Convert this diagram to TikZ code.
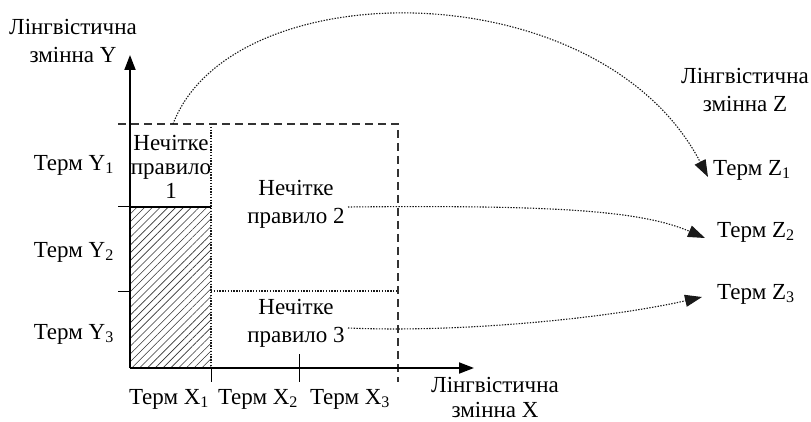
\documentclass[tikz,border=0pt]{standalone}
\usepackage{fontspec}
\setmainfont{Liberation Serif}
\usetikzlibrary{arrows.meta,patterns.meta}
\begin{document}
\begin{tikzpicture}[x=1pt,y=-1pt,
  txt/.style={font=\fontsize{23}{28}\selectfont, inner sep=0pt, align=center},
  axis/.style={line width=1.8pt, -{Triangle[length=15pt,width=11pt]}},
  dashedline/.style={line width=1.3pt, dash pattern=on 8pt off 5pt, draw=black!80},
  dotline/.style={line width=1.1pt, dash pattern=on 1.4pt off 1.4pt, draw=black!90},
  dotarrow/.style={dotline, -{Triangle[length=17pt,width=12pt]}},
  tick/.style={line width=1pt}]
\useasboundingbox (0,0) rectangle (811,422);
% coordinates
\coordinate (O) at (130,368);
\coordinate (ytop) at (130,55);
\coordinate (xend) at (474,368);
% hatched region
\fill[pattern={Lines[angle=45,distance=5.5pt,line width=0.6pt]}, pattern color=black!80] (130,207) rectangle (211,368);
\draw[line width=1.2pt] (130,207) -- (211,207);
% dotted grid
\draw[dotline] (211,124) -- (211,368);
\draw[dotline] (211,291) -- (398,291);
% dashed box
\draw[dashedline] (118,124) -- (398,124) -- (398,382);
% ticks
\draw[tick] (118,207) -- (130,207);
\draw[tick] (118,291) -- (130,291);
\draw[tick] (211,368) -- (211,382);
\draw[tick] (299,354) -- (299,382);
% axes
\draw[axis] (O) -- (ytop);
\draw[axis] (O) -- (xend);
% labels
\node[txt] (ylab) at (73,41) {Лінгвістична\\змінна Y};
\node[txt, font=\fontsize{23}{25}\selectfont] (xlab) at (495,397) {Лінгвістична\\змінна X};
\node[txt] (zlab) at (745,90) {Лінгвістична\\змінна Z};
\node[txt, anchor=east] (y1) at (114,165) {Терм Y\textsubscript{1}};
\node[txt, anchor=east] (y2) at (114,252) {Терм Y\textsubscript{2}};
\node[txt, anchor=east] (y3) at (114,334) {Терм Y\textsubscript{3}};
\node[txt] (x1) at (169,399) {Терм X\textsubscript{1}};
\node[txt] (x2) at (258,399) {Терм X\textsubscript{2}};
\node[txt] (x3) at (350,399) {Терм X\textsubscript{3}};
\node[txt, anchor=west] (z1) at (713,170) {Терм Z\textsubscript{1}};
\node[txt, anchor=west] (z2) at (717,232) {Терм Z\textsubscript{2}};
\node[txt, anchor=west] (z3) at (717,294) {Терм Z\textsubscript{3}};
\node[txt, font=\fontsize{23}{24}\selectfont] (r1) at (171,167) {Нечітке\\правило\\1};
\node[txt] (r2) at (296,204) {Нечітке\\правило 2};
\node[txt] (r3) at (296,323) {Нечітке\\правило 3};
% connectors
\coordinate (r1out) at (173,124);
\coordinate (r2out) at (348,207);
\coordinate (r3out) at (348,328);
\draw[dotarrow] (r1out) .. controls (232,-30) and (600,-30) .. ([xshift=-5pt,yshift=-7pt]z1.west);
\draw[dotarrow] (r2out) .. controls (550,205) and (640,210) .. ([xshift=-12pt,yshift=-6pt]z2.west);
\draw[dotarrow] (r3out) .. controls (460,333) and (610,318) .. ([xshift=-15pt,yshift=-3pt]z3.west);
\end{tikzpicture}
\end{document}
